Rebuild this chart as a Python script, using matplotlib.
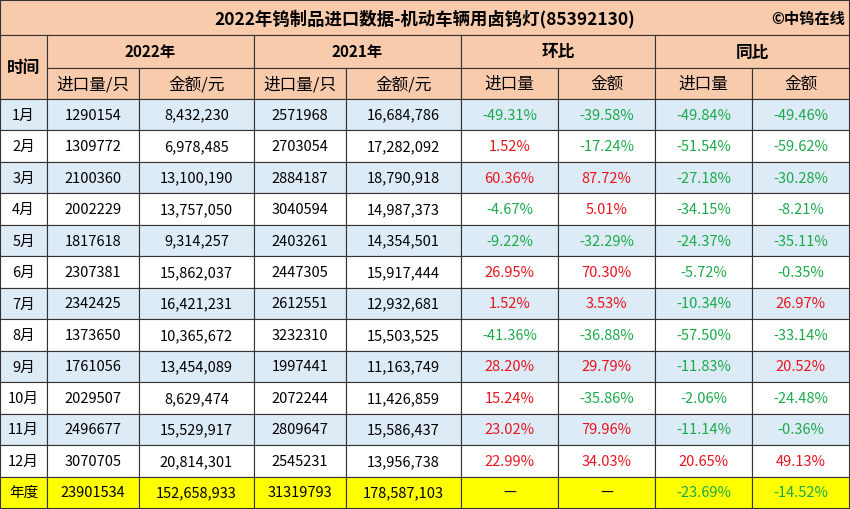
import matplotlib
matplotlib.use("Agg")
import matplotlib.pyplot as plt
from matplotlib.patches import Rectangle
from matplotlib import font_manager

cjk = [f.name for f in font_manager.fontManager.ttflist if "CJK" in f.name]
pref = [n for n in ["Noto Sans CJK SC", "Noto Sans CJK JP", "Noto Sans CJK TC", "Noto Sans CJK KR"] if n in cjk]
fam = pref[0] if pref else (cjk[0] if cjk else "DejaVu Sans")
plt.rcParams["font.family"] = [fam, "DejaVu Sans"]

title = "2022年钨制品进口数据-机动车辆用卤钨灯(85392130)"
credit = "©中钨在线"
months = ["1月","2月","3月","4月","5月","6月","7月","8月","9月","10月","11月","12月","年度"]
qty_2022 = ["1290154","1309772","2100360","2002229","1817618","2307381","2342425","1373650","1761056","2029507","2496677","3070705","23901534"]
amt_2022 = ["8,432,230","6,978,485","13,100,190","13,757,050","9,314,257","15,862,037","16,421,231","10,365,672","13,454,089","8,629,474","15,529,917","20,814,301","152,658,933"]
qty_2021 = ["2571968","2703054","2884187","3040594","2403261","2447305","2612551","3232310","1997441","2072244","2809647","2545231","31319793"]
amt_2021 = ["16,684,786","17,282,092","18,790,918","14,987,373","14,354,501","15,917,444","12,932,681","15,503,525","11,163,749","11,426,859","15,586,437","13,956,738","178,587,103"]
mom_qty = ["-49.31%","1.52%","60.36%","-4.67%","-9.22%","26.95%","1.52%","-41.36%","28.20%","15.24%","23.02%","22.99%","—"]
mom_amt = ["-39.58%","-17.24%","87.72%","5.01%","-32.29%","70.30%","3.53%","-36.88%","29.79%","-35.86%","79.96%","34.03%","—"]
yoy_qty = ["-49.84%","-51.54%","-27.18%","-34.15%","-24.37%","-5.72%","-10.34%","-57.50%","-11.83%","-2.06%","-11.14%","20.65%","-23.69%"]
yoy_amt = ["-49.46%","-59.62%","-30.28%","-8.21%","-35.11%","-0.35%","26.97%","-33.14%","20.52%","-24.48%","-0.36%","49.13%","-14.52%"]

W, H = 850, 510
fig = plt.figure(figsize=(W/100, H/100), dpi=100)
ax = fig.add_axes([0, 0, 1, 1])
ax.set_xlim(0, W); ax.set_ylim(H, 0); ax.axis("off")

cols = [0, 47, 139, 254, 346, 461, 558, 655, 752, 849]
peach = "#F8CBAD"
blue = "#DDEBF7"
yellow = "#FFFF00"
green = "#1AAA4A"
red = "#E8141E"
lc = "#333333"

def cell(x0, y0, x1, y1, fc):
    ax.add_patch(Rectangle((x0, y0), x1-x0, y1-y0, facecolor=fc, edgecolor=lc, lw=0.8))

cell(0, 1, 849, 36, peach)
ax.text(425, 19, title, ha="center", va="center", fontsize=12.5, fontweight="bold")
ax.text(845, 19, credit, ha="right", va="center", fontsize=11, fontweight="bold")
cell(0, 36, 47, 100, peach)
ax.text(23.5, 68, "时间", ha="center", va="center", fontsize=12, fontweight="bold")
groups = ["2022年", "2021年", "环比", "同比"]
for g in range(4):
    x0, x1 = cols[1+2*g], cols[3+2*g]
    cell(x0, 36, x1, 69, peach)
    ax.text((x0+x1)/2, 52.5, groups[g], ha="center", va="center", fontsize=11 if g < 2 else 12, fontweight="bold")
subs = ["进口量/只", "金额/元", "进口量/只", "金额/元", "进口量", "金额", "进口量", "金额"]
for i, s in enumerate(subs):
    cell(cols[1+i], 69, cols[2+i], 100, peach)
    ax.text((cols[1+i]+cols[2+i])/2, 84.5, s, ha="center", va="center", fontsize=12)

top = 100
rh = (509 - top) / 13
for r in range(13):
    y0 = top + r*rh; y1 = y0 + rh; yc = (y0+y1)/2
    fc = yellow if r == 12 else (blue if r % 2 == 0 else "white")
    vals = [months[r], qty_2022[r], amt_2022[r], qty_2021[r], amt_2021[r],
            mom_qty[r], mom_amt[r], yoy_qty[r], yoy_amt[r]]
    for c, v in enumerate(vals):
        cell(cols[c], y0, cols[c+1], y1, fc)
        color = "black"
        if c >= 5 and v != "—":
            color = green if v.startswith("-") else red
        ax.text((cols[c]+cols[c+1])/2, yc, v, ha="center", va="center", fontsize=10.5, color=color)

fig.savefig("out.png", dpi=100)
